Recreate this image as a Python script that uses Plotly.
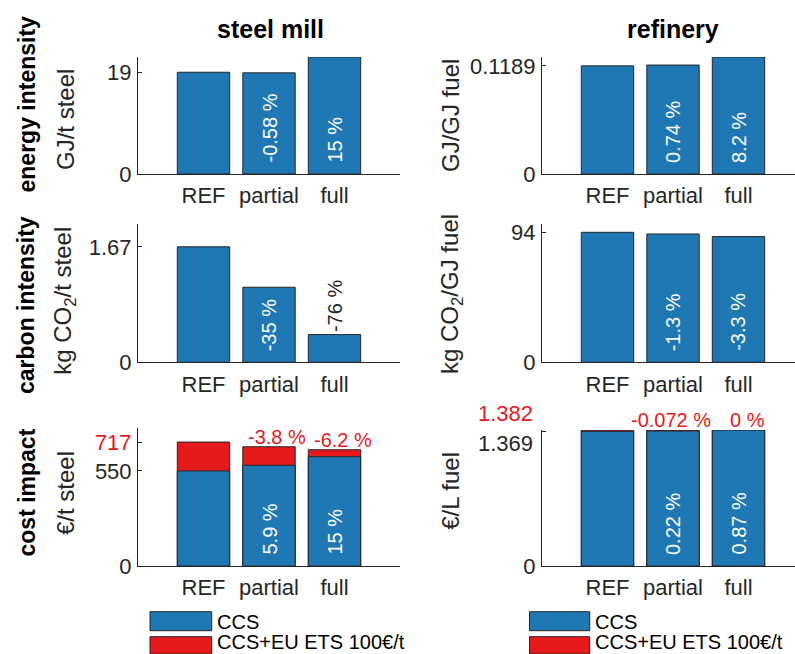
import plotly.graph_objects as go

# ---- data -------------------------------------------------------------
categories = ["REF", "partial", "full"]

steel_energy = [19.0, 18.89, 21.85]          # GJ/t steel
refinery_energy = [0.1189, 0.11978, 0.12865]  # GJ/GJ fuel
steel_carbon = [1.67, 1.0855, 0.4008]         # kg CO2/t steel
refinery_carbon = [94.0, 92.78, 90.9]         # kg CO2/GJ fuel
steel_cost_ccs = [550.0, 582.5, 632.5]        # EUR/t steel
steel_cost_ets = [717.0, 689.8, 672.5]
refinery_cost_ccs = [1.369, 1.372, 1.381]     # EUR/L fuel
refinery_cost_ets = [1.382, 1.381, 1.382]

steel_energy_pct = ["", "-0.58 %", "15 %"]
refinery_energy_pct = ["", "0.74 %", "8.2 %"]
steel_carbon_pct = ["", "-35 %", "-76 %"]
refinery_carbon_pct = ["", "-1.3 %", "-3.3 %"]
steel_cost_ccs_pct = ["", "5.9 %", "15 %"]
refinery_cost_ccs_pct = ["", "0.22 %", "0.87 %"]
steel_cost_ets_pct = ["", "-3.8 %", "-6.2 %"]
refinery_cost_ets_pct = ["", "-0.072 %", "0 %"]

col_titles = ["steel mill", "refinery"]
row_titles = ["energy intensity", "carbon intensity", "cost impact"]
unit_labels = [["GJ/t steel", "GJ/GJ fuel"],
               ["kg CO<sub>2</sub>/t steel", "kg CO<sub>2</sub>/GJ fuel"],
               ["€/t steel", "€/L fuel"]]
legend_labels = ["CCS", "CCS+EU ETS 100€/t"]

# ---- style --------------------------------------------------------------
W, H = 795, 654
FONT = "Liberation Sans, Arial, Helvetica, sans-serif"
INK = "#262626"
BLUE = "#1f77b4"
RED = "#e41a1c"
EDGE = "#262626"
TICK_SIZE = 22


def px_x(p):
    return p / W


def px_y(p):
    return 1 - p / H


fig = go.Figure()

# axes geometry (pixels)
left_dom = [px_x(138), px_x(400)]
right_dom = [px_x(542), 1.0]
row_dom = [
    ([px_y(174), px_y(57)], [px_y(174), px_y(57)]),
    ([px_y(362.3), px_y(224)], [px_y(362.3), px_y(224)]),
    ([px_y(566), px_y(427.7)], [px_y(566), px_y(430)]),
]

panels = [
    # (axis index, col, row, values list, y range, tick values, pct labels)
    (1, 0, 0, steel_energy, [0, max(steel_energy)], [0, steel_energy[0]], steel_energy_pct),
    (2, 1, 0, refinery_energy, [0, max(refinery_energy)], [0, refinery_energy[0]], refinery_energy_pct),
    (3, 0, 1, steel_carbon, [0, 2.0], [0, steel_carbon[0]], steel_carbon_pct),
    (4, 1, 1, refinery_carbon, [0, 100], [0, refinery_carbon[0]], refinery_carbon_pct),
    (5, 0, 2, steel_cost_ccs, [0, 800], [0, steel_cost_ccs[0], steel_cost_ets[0]], steel_cost_ccs_pct),
    (6, 1, 2, refinery_cost_ccs, [0, max(refinery_cost_ets)], [0], refinery_cost_ccs_pct),
]

annotations = []
shapes = []
bar_kw = dict(width=0.8, marker_line_color=EDGE, marker_line_width=1, showlegend=False, hoverinfo="skip")

for idx, col, row, vals, yr, tv, pct in panels:
    xa = "x" if idx == 1 else f"x{idx}"
    ya = "y" if idx == 1 else f"y{idx}"
    # cost panels: total with emissions trading behind the CCS-only cost
    if row == 2:
        ets = steel_cost_ets if col == 0 else refinery_cost_ets
        fig.add_trace(go.Bar(x=categories, y=ets, marker_color=RED, xaxis=xa, yaxis=ya, **bar_kw))
    fig.add_trace(go.Bar(x=categories, y=vals, marker_color=BLUE, xaxis=xa, yaxis=ya, **bar_kw))

    xr = [-1, 3] if col == 0 else [-1, -1 + 253 / 65.5]
    xkey = "xaxis" if idx == 1 else f"xaxis{idx}"
    ykey = "yaxis" if idx == 1 else f"yaxis{idx}"

    if row == 2 and col == 0:
        ticktext = ["0", f"{tv[1]:g}", f'<span style="color:{RED}">{tv[2]:g}</span>']
    else:
        ticktext = [f"{v:g}" for v in tv]

    yax = dict(
        domain=row_dom[row][col], anchor=xa, range=yr,
        tickvals=tv, ticktext=ticktext,
        showline=True, linecolor=INK, linewidth=1, ticks="inside", ticklen=4, tickcolor=INK,
        showgrid=False, zeroline=False, fixedrange=True, automargin=False,
        tickfont=dict(family=FONT, size=TICK_SIZE, color=INK), ticklabelstandoff=1,
    )
    if row == 2 and col == 1:
        yax["minor"] = dict(tickvals=[refinery_cost_ccs[0], refinery_cost_ets[0]],
                            ticks="inside", ticklen=4, tickcolor=INK, showgrid=False)

    fig.layout[xkey] = dict(
        domain=left_dom if col == 0 else right_dom,
        anchor=ya, range=xr, type="category", categoryorder="array", categoryarray=categories,
        showline=True, linecolor=INK, linewidth=1, ticks="", showgrid=False, zeroline=False,
        tickfont=dict(family=FONT, size=TICK_SIZE, color=INK), ticklabelstandoff=2,
        fixedrange=True, automargin=False,
    )
    fig.layout[ykey] = yax

    # relative change labels, written along the bars
    for c, v, t in zip(categories, vals, pct):
        if not t:
            continue
        if v / yr[1] > 0.5:
            annotations.append(dict(x=c, y=0, xref=xa, yref=ya, text=t, textangle=-90,
                                    showarrow=False, yanchor="bottom", yshift=9,
                                    font=dict(family=FONT, size=20, color="white")))
        else:
            annotations.append(dict(x=c, y=v, xref=xa, yref=ya, text=t, textangle=-90,
                                    showarrow=False, yanchor="bottom", yshift=0,
                                    font=dict(family=FONT, size=20, color=INK)))

    if row == 2:
        ets = steel_cost_ets if col == 0 else refinery_cost_ets
        ets_pct = steel_cost_ets_pct if col == 0 else refinery_cost_ets_pct
        shifts = [0, 8, 8] if col == 0 else [0, -2, 9]
        for c, v, t, s in zip(categories, ets, ets_pct, shifts):
            if t:
                annotations.append(dict(x=c, y=v, xref=xa, yref=ya, text=t, showarrow=False,
                                        yanchor="bottom", xshift=s, yshift=-3,
                                        font=dict(family=FONT, size=20, color=RED)))

# refinery cost: two nearly coincident ticks, labels pulled apart with a bracket
annotations.append(dict(x=-1, y=refinery_cost_ets[0], xref="x6", yref="y6", text=f"{refinery_cost_ets[0]:g}",
                        showarrow=False, xanchor="right", yanchor="middle", xshift=-7, yshift=17,
                        font=dict(family=FONT, size=TICK_SIZE, color=RED)))
annotations.append(dict(x=-1, y=refinery_cost_ccs[0], xref="x6", yref="y6", text=f"{refinery_cost_ccs[0]:g}",
                        showarrow=False, xanchor="right", yanchor="middle", xshift=-7, yshift=-12,
                        font=dict(family=FONT, size=TICK_SIZE, color=INK)))
for dy in (10, -11):
    shapes.append(dict(type="line", xref="x6", yref="y6", xsizemode="pixel", ysizemode="pixel",
                       xanchor=-1, yanchor=refinery_cost_ets[0], x0=0, x1=-8, y0=0, y1=dy,
                       line=dict(color=INK, width=1.2)))

# column titles
for txt, xc in zip(col_titles, [270.8, 673]):
    annotations.append(dict(x=px_x(xc), y=px_y(29.5), xref="paper", yref="paper", text=f"<b>{txt}</b>",
                            showarrow=False, xanchor="center", yanchor="middle",
                            font=dict(family=FONT, size=25, color="black")))

# row titles and unit labels
for txt, yc in zip(row_titles, [104.5, 305, 492.5]):
    annotations.append(dict(x=px_x(26), y=px_y(yc), xref="paper", yref="paper", text=f"<b>{txt}</b>",
                            showarrow=False, textangle=-90, xanchor="center", yanchor="middle",
                            font=dict(family=FONT, size=23, color="black")))
unit_pos = [[(65, 120), (451, 116)], [(65, 300.8), (451, 294)], [(65, 493), (451, 490.8)]]
for r in range(3):
    for c in range(2):
        xc, yc = unit_pos[r][c]
        annotations.append(dict(x=px_x(xc), y=px_y(yc), xref="paper", yref="paper", text=unit_labels[r][c],
                                showarrow=False, textangle=-90, xanchor="center", yanchor="middle",
                                font=dict(family=FONT, size=24, color=INK)))

# legends under each column
for x0, x1 in [(150, 211.7), (529.5, 589.7)]:
    for (y0, y1), colr, lab in zip([(611.7, 630.7), (636.7, 654)], [BLUE, RED], legend_labels):
        shapes.append(dict(type="rect", xref="paper", yref="paper",
                           x0=px_x(x0), x1=px_x(x1), y0=px_y(y1), y1=px_y(y0),
                           fillcolor=colr, line=dict(color=EDGE, width=1)))
        annotations.append(dict(x=px_x(x1 + 4), y=px_y(min((y0 + y1) / 2 + 12.5, H)),
                                xref="paper", yref="paper",
                                text=lab, showarrow=False, xanchor="left", yanchor="bottom",
                                borderpad=0,
                                font=dict(family=FONT, size=20, color="black")))

fig.update_layout(
    template="none",
    width=W, height=H, margin=dict(l=0, r=0, t=0, b=0, pad=0, autoexpand=False),
    paper_bgcolor="white", plot_bgcolor="white",
    barmode="overlay", bargap=0.2, showlegend=False,
    annotations=annotations, shapes=shapes,
    font=dict(family=FONT, color=INK),
)

fig.write_html("out.html")
